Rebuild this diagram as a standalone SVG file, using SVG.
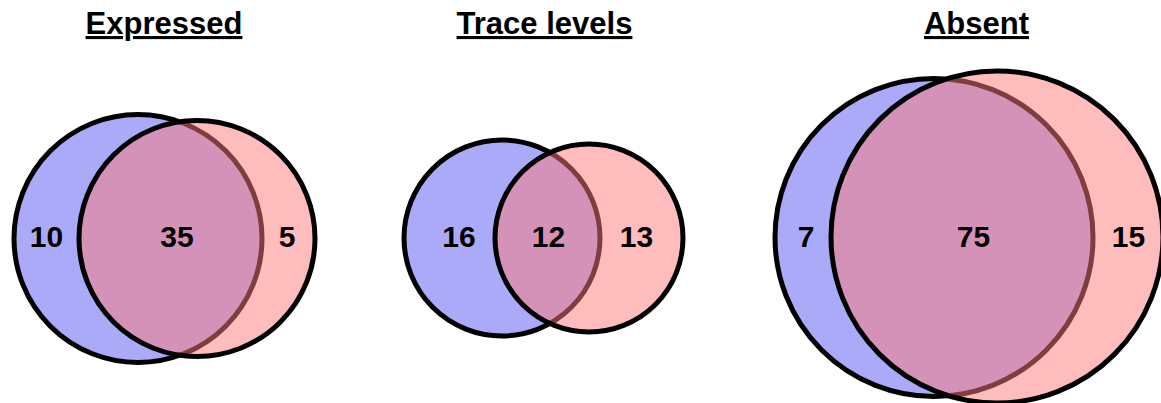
<svg xmlns="http://www.w3.org/2000/svg" width="1161" height="403" viewBox="0 0 1161 403">
<style>
.bg{fill:#ffffff}
.a{fill:#aaaaf9;stroke:#000;stroke-width:5}
.b{fill:rgb(255,122,122);fill-opacity:0.5;stroke:#000;stroke-width:5}
.t{font-family:"Liberation Sans",Arial,sans-serif;font-weight:bold;font-size:31px;text-anchor:middle;fill:#000;text-decoration:underline}
.n{font-family:"Liberation Sans",Arial,sans-serif;font-weight:bold;font-size:30px;text-anchor:middle;fill:#000}
</style>
<rect class="bg" width="1161" height="403"/>
<g id="expressed">
<text class="t" x="164" y="34">Expressed</text>
<circle class="a" cx="138" cy="238.5" r="124"/>
<circle class="b" cx="197" cy="238.5" r="118"/>
<text class="n" x="46.5" y="247">10</text>
<text class="n" x="177" y="247">35</text>
<text class="n" x="287" y="247">5</text>
</g>
<g id="trace">
<text class="t" x="544.5" y="34">Trace levels</text>
<circle class="a" cx="502" cy="238" r="98"/>
<circle class="b" cx="589" cy="238" r="94"/>
<text class="n" x="459" y="247">16</text>
<text class="n" x="548.5" y="247">12</text>
<text class="n" x="636.5" y="247">13</text>
</g>
<g id="absent">
<text class="t" x="976.5" y="34">Absent</text>
<circle class="a" cx="934" cy="237.5" r="159"/>
<circle class="b" cx="997" cy="237" r="166"/>
<text class="n" x="806" y="247">7</text>
<text class="n" x="973.5" y="247">75</text>
<text class="n" x="1128.5" y="247">15</text>
</g>
<g id="connectors"/>
</svg>
